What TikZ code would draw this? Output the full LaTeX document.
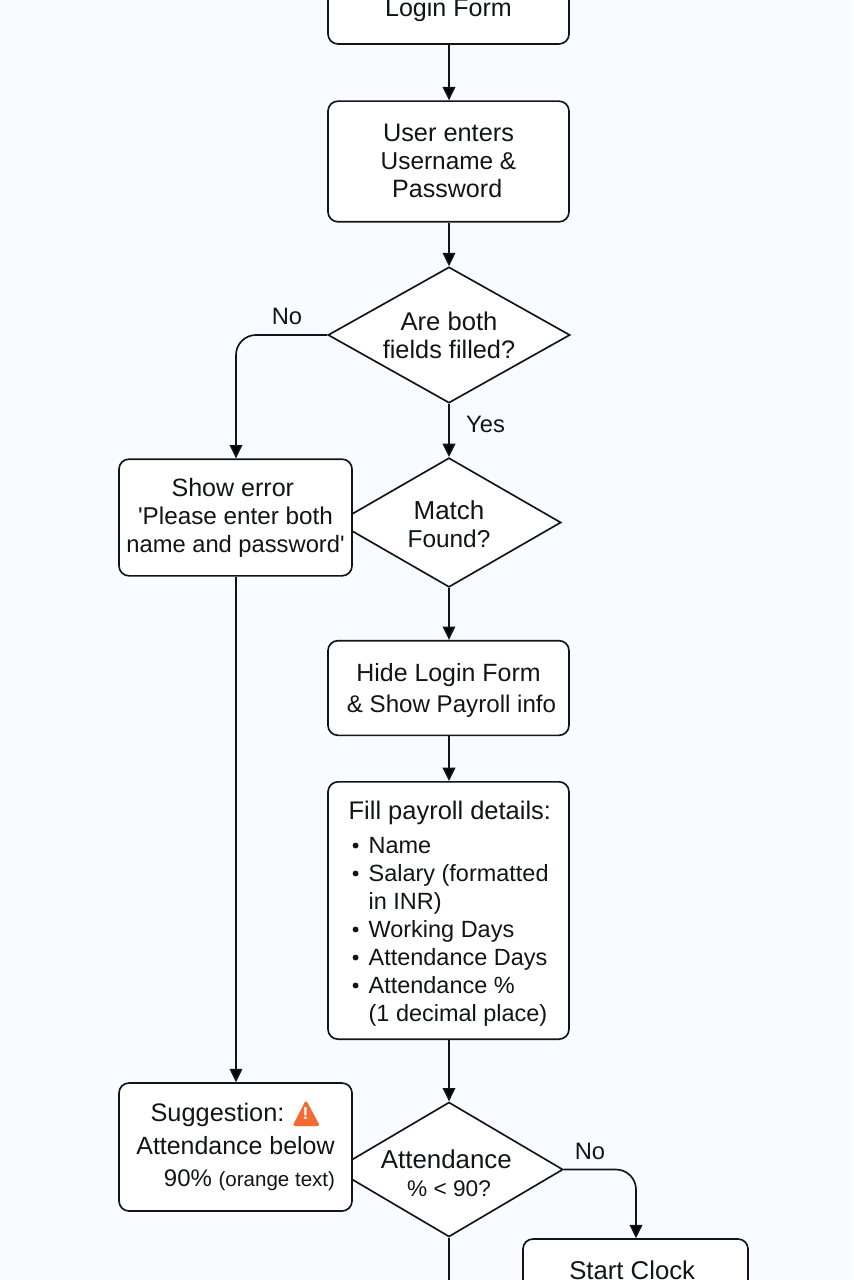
\documentclass[tikz,border=0pt]{standalone}
\usepackage{fontspec}
\setmainfont{Liberation Sans}
\newfontfamily\plainq{Liberation Sans}
\usetikzlibrary{shapes.geometric,arrows.meta}
\definecolor{bgc}{HTML}{F8FBFF}
\definecolor{inkc}{HTML}{111418}
\definecolor{warnc}{HTML}{F26B36}
\newcommand{\fs}[1]{\fontsize{#1pt}{21pt}\selectfont}
\newcommand{\sq}{{\plainq\char39 }}
\newcommand{\bul}{\makebox[15pt][l]{\kern3pt\raisebox{0.22em}{\tikz\fill[inkc] circle (2.2pt);}}}
% text of zero size, so that a shape keeps the size it is given; #1 moves it up or down
\newcommand{\ztext}[2]{\raisebox{\dimexpr #1-0.25em\relax}[0pt][0pt]{\makebox[0pt]{\begin{tabular}{@{}c@{}}#2\end{tabular}}}}
\tikzset{
  px/.style={x=0.75pt,y=-0.75pt},
  lab/.style={font=\fs{18.8},text=inkc,align=center,inner sep=0pt},
  boxn/.style={lab,draw=inkc,line width=1.25pt,fill=white,rounded corners=7.5pt,minimum width=#1*0.75pt},
  dia/.style={lab,diamond,draw=inkc,line width=1.25pt,fill=white,inner sep=0pt},
  conn/.style={draw=inkc,line width=1.25pt,-{Triangle[length=10pt,width=9.5pt]}},
  plain/.style={draw=inkc,line width=1.25pt},
  edgelab/.style={lab,font=\fs{17.8}}
}
\begin{document}
\begin{tikzpicture}[px]
\useasboundingbox (0,0) rectangle (853,1280);
\clip (0,0) rectangle (853,1280);
\fill[bgc] (0,0) rectangle (853,1280);
% diamonds first: the boxes overlap them
\node[dia,minimum width=181.5pt,minimum height=102pt,shape aspect=1.78] (d1) at (449,335) {\ztext{-2.2pt}{\fs{19.2}Are both\\\fs{19}fields filled?}};
\node[dia,minimum width=168pt,minimum height=97pt,shape aspect=1.74] (d2) at (449,522.5) {\ztext{-3.4pt}{\fs{19.5}Match\\\fs{18.3}Found?}};
\node[dia,minimum width=171pt,minimum height=101pt,shape aspect=1.69] (d3) at (449,1169.5) {\ztext{-5.5pt}{\fs{19.4}\hspace*{-4pt}Attendance\\\fs{17}\% < 90?}};
% boxes
\node[boxn=241,minimum height=90pt] (login) at (448.5,-16) {\ztext{-20pt}{\fs{18.8}Login Form}};
\node[boxn=241,minimum height=90.5pt] (user) at (448.5,161.5) {\ztext{-1.5pt}{\fs{19}User enters\\\fs{18.3}Username \&\\\fs{18.8}\hspace*{-2pt}Password}};
\node[boxn=233,minimum height=87.5pt] (err) at (235.5,517.5) {\ztext{-0.5pt}{\fs{18.8}\hspace*{-4pt}Show error\\\fs{18.2}\sq Please enter both\\\fs{17.8}name and password\sq}};
\node[boxn=241,minimum height=71pt] (hide) at (448.5,688) {\ztext{-2pt}{\fs{18.7}Hide Login Form\\[2.25pt]\fs{18.1}\hspace*{4.5pt}\& Show Payroll info}};
\node[boxn=241,minimum height=193pt] (fill) at (448.5,910.5) {%
\hspace*{2pt}\raisebox{\dimexpr -3pt-0.25em\relax}[0pt][0pt]{\makebox[0pt]{\fs{17.6}\begin{tabular}{@{}l@{}}\fs{19.1}Fill payroll details:\\[4.5pt]
\fs{17.6}\bul Name\\
\bul Salary (formatted\\
\hspace*{15pt}in INR)\\
\bul Working Days\\
\bul Attendance Days\\
\bul Attendance \%\\
\hspace*{15pt}(1 decimal place)\end{tabular}}}};
\node[boxn=233,minimum height=96pt] (sug) at (235.5,1147) {\ztext{-1pt}{\fs{19}Suggestion:\hspace*{27pt}\\[3.4pt]\fs{18.7}Attendance below\\[3.4pt]\hspace*{21pt}\fs{18}90\% {\fs{15.4}(orange text)}}};
\node[boxn=225,minimum height=69pt] (clock) at (635.5,1285) {\hspace*{-5pt}\ztext{9pt}{\fs{19.3}Start Clock}};
% warning icon
\coordinate (wa) at (306,1103);
\coordinate (wb) at (295,1124.5);
\coordinate (wc) at (317.5,1124.5);
\fill[warnc,draw=warnc,line width=2.25pt,line join=round] (wa) -- (wb) -- (wc) -- cycle;
\node[font=\fontsize{13pt}{13pt}\bfseries\selectfont,text=white,inner sep=0pt] (wm) at (305.5,1114) {!};
% connectors
\draw[conn] (login.south -| 449,0) -- (user.north -| 449,0);
\draw[conn] (user.south -| 449,0) -- (d1.north);
\coordinate (c1) at (236,335);
\draw[conn,rounded corners=15pt] (d1.west) -- (c1) -- (err.north -| c1);
\draw[conn] (d1.south) -- (d2.north);
\draw[conn] (d2.south) -- (hide.north -| 449,0);
\draw[conn] (hide.south -| 449,0) -- (fill.north -| 449,0);
\draw[conn] (fill.south -| 449,0) -- (d3.north);
\draw[conn] (err.south -| c1) -- (sug.north -| c1);
\coordinate (c3) at (636,1169.5);
\draw[conn,rounded corners=15pt] (d3.east) -- (c3) -- (clock.north -| c3);
\coordinate (bot) at (449,1290);
\draw[plain] (d3.south) -- (bot);
% edge labels
\node[edgelab] (no1) at (287,316) {No};
\node[edgelab] (yes) at (485.5,424) {Yes};
\node[edgelab] (no2) at (590,1151) {No};
\end{tikzpicture}
\end{document}
